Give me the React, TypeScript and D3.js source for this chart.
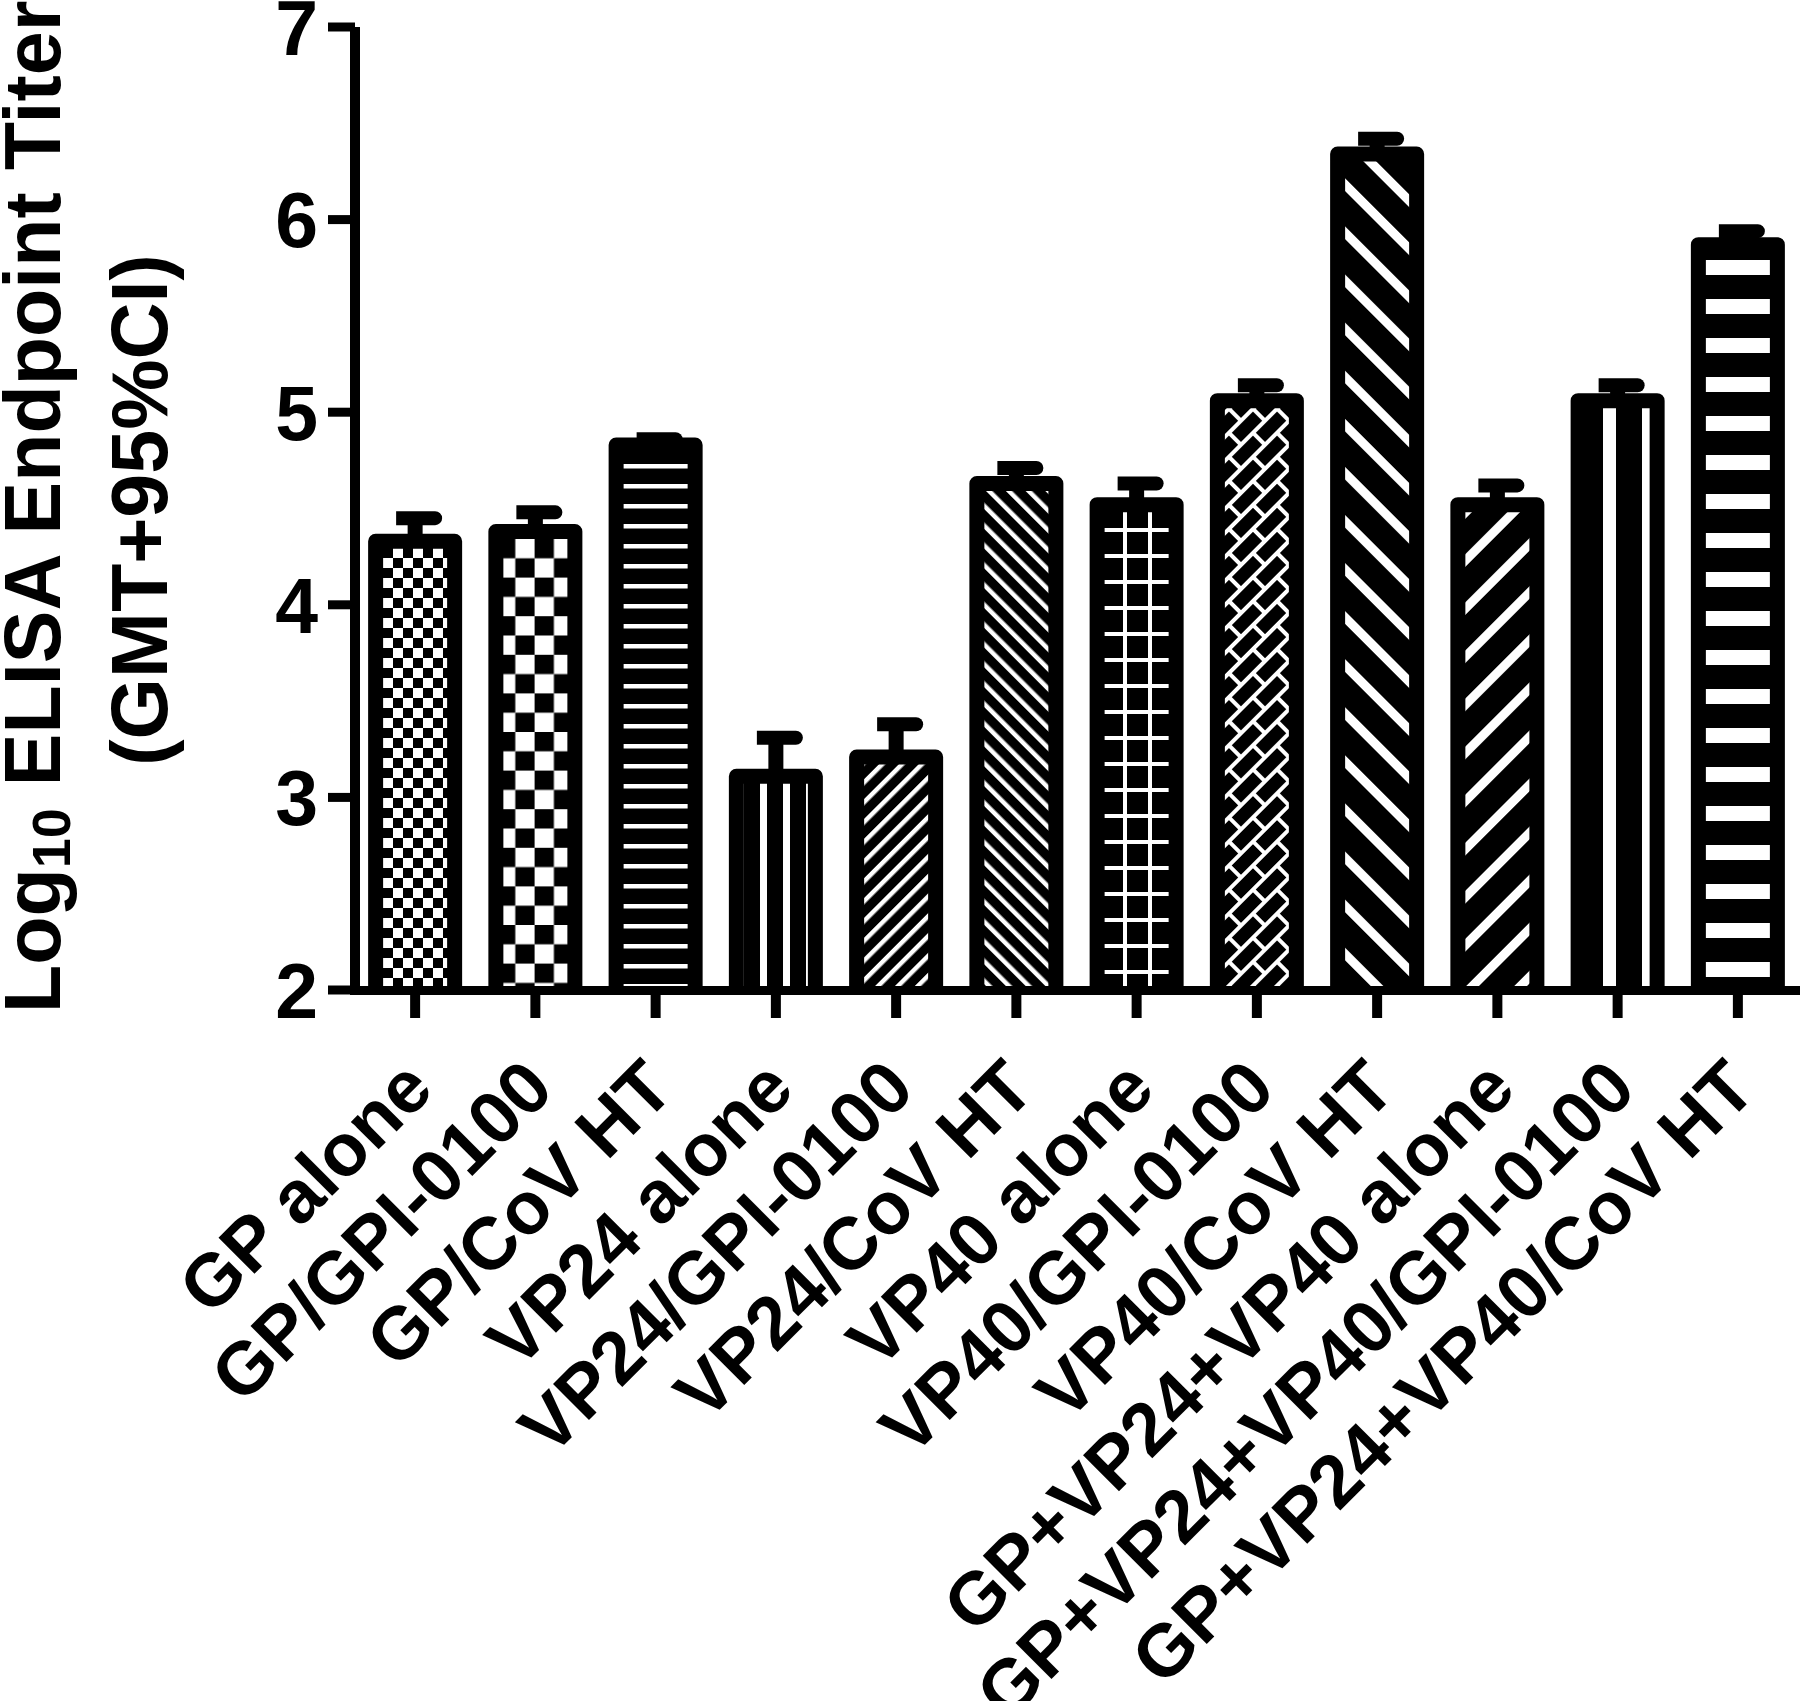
import React, { useEffect } from 'react';
import * as d3 from 'd3';

const categories = [
  'GP alone',
  'GP/GPI-0100',
  'GP/CoV HT',
  'VP24 alone',
  'VP24/GPI-0100',
  'VP24/CoV HT',
  'VP40 alone',
  'VP40/GPI-0100',
  'VP40/CoV HT',
  'GP+VP24+VP40 alone',
  'GP+VP24+VP40/GPI-0100',
  'GP+VP24+VP40/CoV HT',
];
const gmt = [4.33, 4.38, 4.83, 3.11, 3.21, 4.63, 4.52, 5.06, 6.34, 4.52, 5.06, 5.87];
const upperCI = [4.45, 4.48, 4.86, 3.31, 3.38, 4.71, 4.63, 5.14, 6.42, 4.62, 5.14, 5.94];
const yTicks = [2, 3, 4, 5, 6, 7];
const patternIds = [
  'checkFine', 'checkLarge', 'hThin', 'vThin', 'diagUp', 'diagDown',
  'grid', 'brick', 'wideDown', 'wideUp', 'vWide', 'hWide',
];

const FONT = "'Liberation Sans', Arial, Helvetica, sans-serif";

export default function App() {
  useEffect(() => {
    document.body.style.margin = '0';
  }, []);

  const W = 1800;
  const H = 1701;
  const x = d3
    .scaleBand<string>()
    .domain(categories)
    .range([355, 1798])
    .paddingInner(0.343)
    .paddingOuter(0.1715);
  const y = d3.scaleLinear().domain([2, 7]).range([990, 27]);
  const bw = x.bandwidth();
  const y0 = y(2);

  const B = 'black';
  const Wh = 'white';

  return (
    <svg width={W} height={H} viewBox={`0 0 ${W} ${H}`} style={{ display: 'block', background: 'white' }}>
      <defs>
        <pattern id="checkFine" patternUnits="userSpaceOnUse" width={20} height={20} x={383} y={548}>
          <rect width={20} height={20} fill={Wh} />
          <rect x={0} y={0} width={10} height={10} fill={B} />
          <rect x={10} y={10} width={10} height={10} fill={B} />
        </pattern>
        <pattern id="checkLarge" patternUnits="userSpaceOnUse" width={38.6} height={38.6} x={496} y={539}>
          <rect width={38.6} height={38.6} fill={Wh} />
          <rect x={0} y={0} width={19.3} height={19.3} fill={B} />
          <rect x={19.3} y={19.3} width={19.3} height={19.3} fill={B} />
        </pattern>
        <pattern id="hThin" patternUnits="userSpaceOnUse" width={10} height={20} x={0} y={464}>
          <rect width={10} height={20} fill={B} />
          <rect x={0} y={0} width={10} height={4.5} fill={Wh} />
        </pattern>
        <pattern id="vThin" patternUnits="userSpaceOnUse" width={23} height={10} x={760} y={0}>
          <rect width={23} height={10} fill={B} />
          <rect x={0} y={0} width={7} height={10} fill={Wh} />
        </pattern>
        <pattern id="diagUp" patternUnits="userSpaceOnUse" width={14} height={14} patternTransform="rotate(45)">
          <rect width={14} height={14} fill={B} />
          <rect x={0} y={0} width={4.5} height={14} fill={Wh} />
        </pattern>
        <pattern id="diagDown" patternUnits="userSpaceOnUse" width={14} height={14} patternTransform="rotate(-45)">
          <rect width={14} height={14} fill={B} />
          <rect x={0} y={0} width={4.5} height={14} fill={Wh} />
        </pattern>
        <pattern id="grid" patternUnits="userSpaceOnUse" width={25} height={26} x={1123} y={528}>
          <rect width={25} height={26} fill={B} />
          <rect x={0} y={0} width={4} height={26} fill={Wh} />
          <rect x={0} y={0} width={25} height={4} fill={Wh} />
        </pattern>
        <pattern id="brick" patternUnits="userSpaceOnUse" width={34} height={34} patternTransform="rotate(-45)">
          <rect width={34} height={34} fill={B} />
          <rect x={0} y={0} width={34} height={4} fill={Wh} />
          <rect x={0} y={17} width={34} height={4} fill={Wh} />
          <rect x={0} y={0} width={4} height={17} fill={Wh} />
          <rect x={17} y={17} width={4} height={17} fill={Wh} />
        </pattern>
        <pattern id="wideDown" patternUnits="userSpaceOnUse" width={34} height={34} patternTransform="rotate(-45)">
          <rect width={34} height={34} fill={B} />
          <rect x={0} y={0} width={9} height={34} fill={Wh} />
        </pattern>
        <pattern id="wideUp" patternUnits="userSpaceOnUse" width={34} height={34} patternTransform="rotate(45)">
          <rect width={34} height={34} fill={B} />
          <rect x={0} y={0} width={9} height={34} fill={Wh} />
        </pattern>
        <pattern id="vWide" patternUnits="userSpaceOnUse" width={39} height={10} x={1603} y={0}>
          <rect width={39} height={10} fill={B} />
          <rect x={0} y={0} width={13} height={10} fill={Wh} />
        </pattern>
        <pattern id="hWide" patternUnits="userSpaceOnUse" width={10} height={39} x={0} y={923}>
          <rect width={10} height={39} fill={B} />
          <rect x={0} y={0} width={10} height={15} fill={Wh} />
        </pattern>
      </defs>

      {/* Bars */}
      {categories.map((c, i) => {
        const xl = x(c)!;
        const xr = xl + bw;
        const yt = y(gmt[i]);
        return (
          <g key={c}>
            <rect x={xl} y={yt} width={bw} height={y0 - yt} fill={`url(#${patternIds[i]})`} />
            <path
              d={`M${xl},${y0 + 2}L${xl},${yt}L${xr},${yt}L${xr},${y0 + 2}`}
              fill="none"
              stroke={B}
              strokeWidth={15}
              strokeLinejoin="round"
            />
          </g>
        );
      })}

      {/* Error bars */}
      {categories.map((c, i) => {
        const cx = x(c)! + bw / 2;
        const yt = y(gmt[i]);
        const yu = y(upperCI[i]);
        return (
          <g key={`e-${c}`}>
            <line x1={cx} x2={cx} y1={yt} y2={yu} stroke={B} strokeWidth={15} />
            <path
              d={`M${cx - 19},${yu - 7}H${cx + 20}A7,7 0 0 1 ${cx + 20},${yu + 7}H${cx - 19}Z`}
              fill={B}
            />
          </g>
        );
      })}

      {/* Y axis */}
      <line x1={355} x2={355} y1={y(7)} y2={995} stroke={B} strokeWidth={10} />
      {yTicks.map((t) => (
        <g key={`yt-${t}`}>
          <line x1={328} x2={355} y1={y(t)} y2={y(t)} stroke={B} strokeWidth={9} />
          <text
            x={318}
            y={y(t)}
            dy="0.36em"
            textAnchor="end"
            fontFamily={FONT}
            fontWeight="bold"
            fontSize={77}
            fill={B}
          >
            {t}
          </text>
        </g>
      ))}

      {/* X axis */}
      <line x1={350} x2={1800} y1={990.5} y2={990.5} stroke={B} strokeWidth={9} />
      {categories.map((c) => {
        const cx = x(c)! + bw / 2;
        return (
          <g key={`xt-${c}`}>
            <line x1={cx} x2={cx} y1={990} y2={1018} stroke={B} strokeWidth={10} />
            <text
              transform={`translate(${cx + 21},1092) rotate(-45)`}
              textAnchor="end"
              fontFamily={FONT}
              fontWeight="bold"
              fontSize={74}
              fill={B}
            >
              {c}
            </text>
          </g>
        );
      })}

      {/* Y axis title */}
      <text
        transform="translate(60,1013) rotate(-90)"
        textAnchor="start"
        fontFamily={FONT}
        fontWeight="bold"
        fontSize={79}
        fill={B}
      >
        Log
        <tspan fontSize={54} dy={10}>10</tspan>
        <tspan dy={-10}> ELISA Endpoint Titer</tspan>
      </text>
      <text
        transform="translate(167,510) rotate(-90)"
        textAnchor="middle"
        fontFamily={FONT}
        fontWeight="bold"
        fontSize={79}
        fill={B}
      >
        (GMT+95%CI)
      </text>
    </svg>
  );
}
